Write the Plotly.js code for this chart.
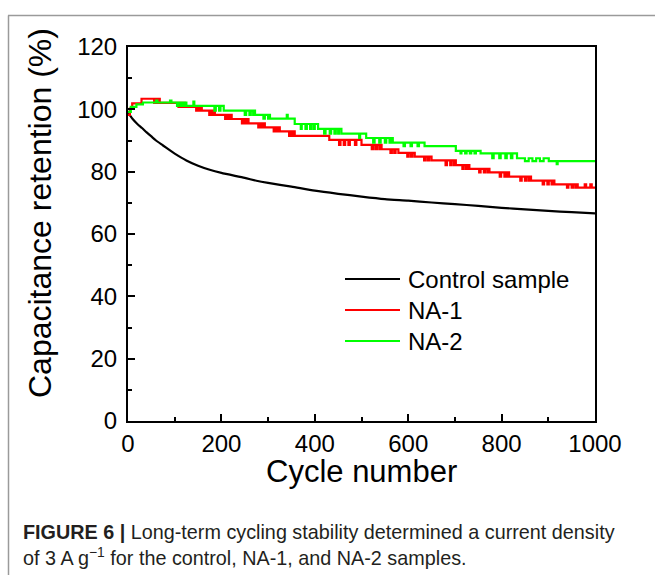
<!DOCTYPE html>
<html>
<head>
<meta charset="utf-8">
<script src="https://cdn.plot.ly/plotly-3.0.1.min.js"></script>
<style>
  html, body { margin: 0; padding: 0; background: #fff; }
  #chart { width: 655px; height: 575px; }
</style>
</head>
<body>
<div id="chart"></div>
<script>
// ---- Data ----
const seriesNames = ["Control sample", "NA-1", "NA-2"];
const seriesColors = ["#000000", "#ff0000", "#00ff00"];

const controlCycles = [0, 5, 10, 20, 30, 40, 50, 60, 75, 90, 100, 125, 150, 175, 200, 250, 275, 300, 350, 400, 450, 500, 550, 600, 650, 700, 750, 800, 850, 900, 950, 1000];
const controlValues = [99.0, 97.9, 96.9, 95.3, 94.0, 92.6, 91.3, 90.0, 88.4, 86.8, 85.8, 83.6, 81.9, 80.6, 79.6, 78.0, 77.1, 76.4, 75.2, 73.9, 72.9, 72.0, 71.2, 70.7, 70.1, 69.6, 69.0, 68.4, 67.9, 67.4, 67.0, 66.6];

const na1Cycles = [0, 4, 9, 29,
  56, 59, 63, 65, 68,
  108, 111, 115, 118, 122,
  146, 149, 153, 155, 158,
  174, 177, 181, 183, 186,
  208, 211, 215, 218, 222,
  244, 247, 251, 254, 258,
  279, 282, 286, 289, 293,
  312, 315, 319, 322, 325,
  345, 348, 352, 354, 357,
  431,
  452, 455, 462, 465, 472, 475, 486, 489, 500,
  522, 525, 530, 533, 538, 540, 543,
  562, 565, 570, 573, 579,
  598, 601, 606, 609, 614,
  634, 637, 642, 645, 650,
  680, 683, 690, 693, 698, 700, 702,
  716, 719, 724, 727, 731,
  752, 755, 762, 765, 770, 772, 774,
  796, 799, 806, 809, 813, 815, 816,
  840, 843, 850, 853, 858, 861, 863,
  888, 891, 898, 901, 907, 910, 913,
  940, 943, 950, 953, 958, 961, 963,
  978, 981, 990, 993, 1000];
const na1Values = [98.2, 100.2, 101.9, 103.4,
  102.1, 103.4, 102.1, 103.4, 102.1,
  100.8, 102.1, 100.8, 102.1, 100.8,
  99.6, 100.8, 99.6, 100.8, 99.6,
  98.2, 99.6, 98.2, 99.6, 98.2,
  96.9, 98.2, 96.9, 98.2, 96.9,
  95.5, 96.9, 95.5, 96.9, 95.5,
  94.2, 95.5, 94.2, 95.5, 94.2,
  92.9, 94.2, 92.9, 94.2, 92.9,
  91.5, 92.9, 91.5, 92.9, 91.5,
  90.2,
  88.6, 90.2, 88.6, 90.2, 88.6, 90.2, 88.6, 90.2, 88.6,
  87.2, 88.6, 87.2, 88.6, 87.2, 88.6, 87.2,
  86.0, 87.2, 86.0, 87.2, 86.0,
  84.8, 86.0, 84.8, 86.0, 84.8,
  83.6, 84.8, 83.6, 84.8, 83.6,
  82.1, 83.6, 82.1, 83.6, 82.1, 83.6, 82.1,
  80.9, 82.1, 80.9, 82.1, 80.9,
  79.8, 80.9, 79.8, 80.9, 79.8, 80.9, 79.8,
  78.4, 79.8, 78.4, 79.8, 78.4, 79.8, 78.4,
  77.1, 78.4, 77.1, 78.4, 77.1, 78.4, 77.1,
  75.9, 77.1, 75.9, 77.1, 75.9, 77.1, 75.9,
  74.9, 75.9, 74.9, 75.9, 74.9, 75.9, 74.9,
  75.9, 74.9, 75.9, 74.9, 74.9];

const na2Cycles = [0, 6, 18, 32,
  60, 63, 90, 93,
  105, 108, 113, 116, 120, 122, 125,
  140, 142,
  185, 188, 195, 198, 205,
  250, 253, 260, 263, 268, 270, 272,
  290, 293, 300, 302, 304,
  340, 342,
  357,
  370, 372, 380, 383, 390, 393, 398, 400, 407,
  420, 423, 432, 435, 442, 445, 450, 452, 457,
  495, 497, 510,
  525, 528, 538, 541, 550, 553, 560, 563, 567,
  590, 593, 605, 608, 620, 623, 635,
  702,
  712, 714, 722, 725, 732, 735, 742, 745, 755,
  780, 783, 795, 798, 808, 811, 820, 823, 833,
  850, 858, 866, 874, 882, 890, 901,
  918, 920, 1000];
const na2Values = [99.2, 100.8, 101.6, 102.2,
  102.8, 102.2, 102.8, 102.2,
  101.1, 102.2, 101.1, 102.2, 101.1, 102.2, 101.1,
  102.5, 101.1,
  99.6, 101.1, 99.6, 101.1, 99.6,
  98.2, 99.6, 98.2, 99.6, 98.2, 99.6, 98.2,
  97.0, 98.2, 97.0, 98.2, 97.0,
  98.2, 97.0,
  95.3,
  93.7, 95.3, 93.7, 95.3, 93.7, 95.3, 93.7, 95.3, 93.7,
  92.2, 93.7, 92.2, 93.7, 92.2, 93.7, 92.2, 93.7, 92.2,
  90.8, 92.2, 90.8,
  89.3, 90.8, 89.3, 90.8, 89.3, 90.8, 89.3, 90.8, 89.3,
  88.2, 89.3, 88.2, 89.3, 88.2, 89.3, 88.2,
  86.7,
  85.9, 86.7, 85.9, 86.7, 85.9, 86.7, 85.9, 86.7, 85.9,
  84.3, 85.9, 84.3, 85.9, 84.3, 85.9, 84.3, 85.9, 84.3,
  83.4, 84.3, 83.4, 84.3, 83.4, 84.3, 83.4,
  82.4, 83.4, 83.4];

const xTickVals = [0, 200, 400, 600, 800, 1000];
const yTickVals = [0, 20, 40, 60, 80, 100, 120];

// ---- Layout helpers (pixel -> paper) ----
const W = 655, H = 575;
const M = {l: 128, r: 60, t: 47, b: 154};
const PW = W - M.l - M.r, PH = H - M.t - M.b;
const px = x => (x - M.l) / PW;
const py = y => (H - M.b - y) / PH;

const FONT = "Liberation Sans, Arial, sans-serif";

const traces = [
  {x: controlCycles, y: controlValues, name: seriesNames[0], mode: "lines",
   line: {color: seriesColors[0], width: 2.2, shape: "spline", smoothing: 0.6}},
  {x: na1Cycles, y: na1Values, name: seriesNames[1], mode: "lines",
   line: {color: seriesColors[1], width: 2.2, shape: "hv"}},
  {x: na2Cycles, y: na2Values, name: seriesNames[2], mode: "lines",
   line: {color: seriesColors[2], width: 2.2, shape: "hv"}}
];

// custom legend
const legendY = [279, 310, 341];
const shapes = [
  // figure frame (top + left)
  {type: "line", xref: "paper", yref: "paper", x0: px(8), x1: px(655), y0: py(15.5), y1: py(15.5),
   line: {color: "#9a9a9a", width: 1.5}},
  {type: "line", xref: "paper", yref: "paper", x0: px(8.5), x1: px(8.5), y0: py(15.5), y1: py(575),
   line: {color: "#9a9a9a", width: 1.5}}
];
const annotations = [];
seriesNames.forEach((n, i) => {
  shapes.push({type: "line", xref: "paper", yref: "paper", x0: px(345), x1: px(400),
    y0: py(legendY[i]), y1: py(legendY[i]), line: {color: seriesColors[i], width: 2}});
  annotations.push({text: n, xref: "paper", yref: "paper", x: px(406), y: py(legendY[i]),
    xanchor: "left", yanchor: "middle", showarrow: false,
    font: {family: FONT, size: 24, color: "#000"}});
});

annotations.push({text: "Capacitance retention (%)", xref: "paper", yref: "paper",
  x: px(40), y: py(213), textangle: -90, xanchor: "center", yanchor: "middle",
  showarrow: false, font: {family: FONT, size: 32, color: "#000"}});

annotations.push({text: "Cycle number", xref: "paper", yref: "paper",
  x: px(361), y: py(472), xanchor: "center", yanchor: "middle",
  showarrow: false, font: {family: FONT, size: 31, color: "#000"}});

annotations.push({text: "<b>FIGURE 6 |</b> Long-term cycling stability determined a current density",
  xref: "paper", yref: "paper", x: px(21), y: py(532), xanchor: "left", yanchor: "middle",
  showarrow: false, font: {family: FONT, size: 19.8, color: "#231f20"}});
annotations.push({text: "of 3 A g<sup>\u22121</sup> for the control, NA-1, and NA-2 samples.",
  xref: "paper", yref: "paper", x: px(21), y: py(556), xanchor: "left", yanchor: "middle",
  showarrow: false, font: {family: FONT, size: 19.8, color: "#231f20"}});

const axisCommon = {
  showline: true, linewidth: 2, linecolor: "#000", mirror: true,
  showgrid: false, zeroline: false,
  ticks: "inside", ticklen: 7, tickwidth: 2, tickcolor: "#000",
  tickfont: {family: FONT, size: 24, color: "#000"}
};

const layout = {
  width: W, height: H,
  margin: M,
  paper_bgcolor: "#fff", plot_bgcolor: "#fff",
  showlegend: false,
  xaxis: Object.assign({}, axisCommon, {
    range: [0, 1000], tickvals: xTickVals, ticktext: xTickVals.map(String),
    minor: {dtick: 100, tick0: 0, ticks: "inside", ticklen: 4, tickwidth: 2, tickcolor: "#000"},
    ticklabelstandoff: 0
  }),
  yaxis: Object.assign({}, axisCommon, {
    range: [0, 120], tickvals: yTickVals, ticktext: yTickVals.map(String),
    minor: {dtick: 10, tick0: 0, ticks: "inside", ticklen: 4, tickwidth: 2, tickcolor: "#000"},
    ticklabelstandoff: 4
  }),
  shapes: shapes,
  annotations: annotations
};

Plotly.newPlot("chart", traces, layout, {staticPlot: true, displayModeBar: false});
</script>
</body>
</html>
